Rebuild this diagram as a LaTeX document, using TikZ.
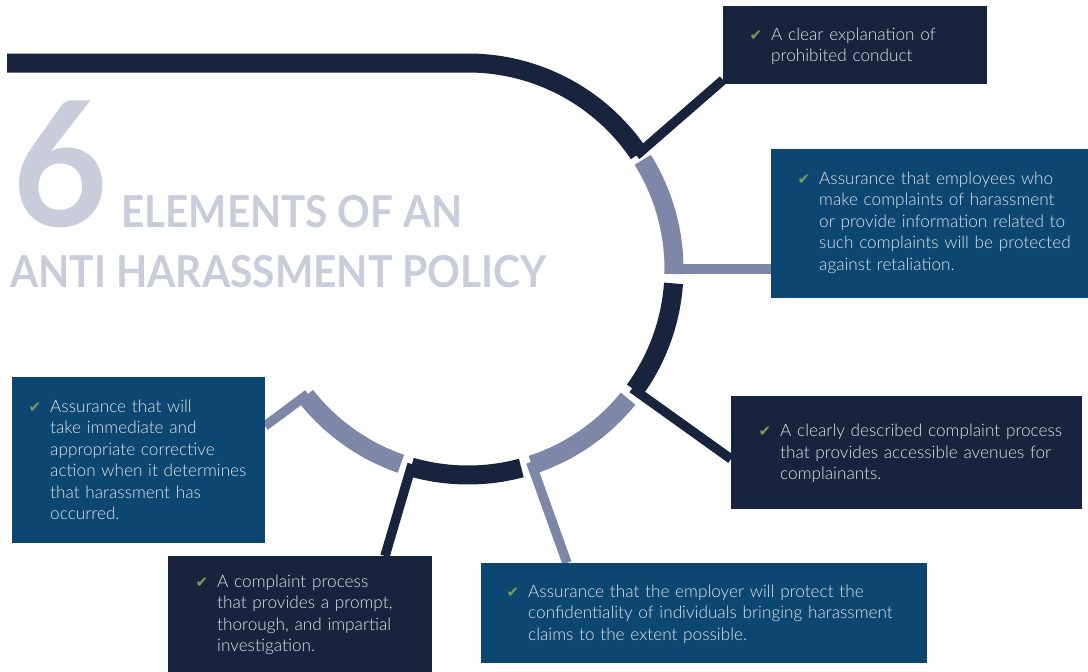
\documentclass[tikz,border=0pt]{standalone}
\usepackage{fontspec}
\usepackage{xcolor}
\usepackage{tikz}
\usetikzlibrary{backgrounds}

\newfontfamily\bodyfont{Lato Light}
\newfontfamily\titlefont{Lato Bold}
\newfontfamily\symfont{DejaVu Sans}

\definecolor{navy}{RGB}{24,36,61}
\definecolor{steel}{RGB}{11,71,113}
\definecolor{slate}{RGB}{126,135,167}
\definecolor{pale}{RGB}{201,205,219}
\definecolor{txtgray}{RGB}{226,228,233}
\definecolor{chkgreen}{RGB}{125,154,91}

\newcommand{\chkmark}{\llap{\textcolor{chkgreen}{\symfont\fontsize{15pt}{15pt}\selectfont ✔}\hspace{9pt}}}

\begin{document}
\begin{tikzpicture}[x=1pt, y=-1pt,
    box/.style={anchor=north west, inner sep=0pt, outer sep=0pt},
    txt/.style={anchor=base west, inner sep=0pt, text=txtgray, text width=420pt, align=left,
        font=\bodyfont\fontsize{17.2pt}{21.5pt}\selectfont},
    head/.style={anchor=base west, inner sep=0pt, text=pale},
    ring/.style={line width=19pt},
    link/.style={line width=9.5pt}]

    \useasboundingbox (0,0) rectangle (1088,672);

    % Title
    \node[head, font=\titlefont\fontsize{174pt}{174pt}\selectfont] (six) at (12,226) {\scalebox{0.95}[1]{6}};
    \node[head, font=\titlefont\fontsize{44pt}{44pt}\selectfont] (head1) at (121,227) {\scalebox{0.92}[1]{ELEMENTS OF AN}};
    \node[head, font=\titlefont\fontsize{44pt}{44pt}\selectfont] (head2) at (10,287) {\scalebox{0.925}[1]{ANTI HARASSMENT POLICY}};

    % Boxes
    \node[box, fill=navy, minimum width=264pt, minimum height=78pt] (b1) at (723,6) {};
    \node[box, fill=steel, minimum width=317pt, minimum height=149pt] (b2) at (771,149) {};
    \node[box, fill=navy, minimum width=351pt, minimum height=113pt] (b3) at (731,396) {};
    \node[box, fill=navy, minimum width=264pt, minimum height=116pt] (b4) at (168,556) {};
    \node[box, fill=steel, minimum width=446pt, minimum height=100pt] (b5) at (481,563) {};
    \node[box, fill=steel, minimum width=253pt, minimum height=166pt] (b6) at (12,377) {};

    % Texts
    \node[txt] (t1) at ([xshift=48pt,yshift=-34.3pt]b1.north west)
        {\chkmark A clear explanation of\\prohibited conduct};
    \node[txt] (t2) at ([xshift=48pt,yshift=-35pt]b2.north west)
        {\chkmark Assurance that employees who\\make complaints of harassment\\or provide information related to\\such complaints will be protected\\against retaliation.};
    \node[txt] (t3) at ([xshift=49pt,yshift=-40.7pt]b3.north west)
        {\chkmark A clearly described complaint process\\that provides accessible avenues for\\complainants.};
    \node[txt] (t4) at ([xshift=49pt,yshift=-31pt]b4.north west)
        {\chkmark A complaint process\\that provides a prompt,\\thorough, and impartial\\investigation.};
    \node[txt] (t5) at ([xshift=47pt,yshift=-34.3pt]b5.north west)
        {\chkmark Assurance that the employer will protect the\\confidentiality of individuals bringing harassment\\claims to the extent possible.};
    \node[txt] (t6) at ([xshift=38pt,yshift=-35pt]b6.north west)
        {\chkmark Assurance that will\\take immediate and\\appropriate corrective\\action when it determines\\that harassment has\\occurred.};

    % Ring
    \coordinate (c) at (468,269);
    \draw[ring, navy] (7,63) -- (468,63) arc[start angle=-90, end angle=-34, radius=206];
    \draw[ring, slate] ([shift={(-32:206)}]c) arc[start angle=-32, end angle=1.4, radius=206];
    \draw[ring, navy] ([shift={(4:206)}]c) arc[start angle=4, end angle=36, radius=206];
    \draw[ring, slate] ([shift={(39:206)}]c) arc[start angle=39, end angle=72, radius=206];
    \draw[ring, navy] ([shift={(75:206)}]c) arc[start angle=75, end angle=106, radius=206];
    \draw[ring, slate] ([shift={(109:206)}]c) arc[start angle=109, end angle=142, radius=206];

    % Connectors
    \coordinate (e1) at ([shift={(-34:203)}]c);
    \coordinate (e2) at ([shift={(0:198)}]c);
    \coordinate (e3) at ([shift={(36:203)}]c);
    \coordinate (e4) at ([shift={(72:203)}]c);
    \coordinate (e5) at ([shift={(106:203)}]c);
    \coordinate (e6) at ([shift={(142:203)}]c);
    \begin{scope}[on background layer]
        \draw[link, navy] (e1) -- ([yshift=4pt]b1.south west);
        \draw[link, slate] (e2) -- (e2 -| b2.west);
        \draw[link, navy] (e3) -- ([yshift=-6.5pt]b3.west);
        \draw[link, slate] (e4) -- ([xshift=86pt]b5.north west);
        \draw[link, navy] (e5) -- ([xshift=217pt]b4.north west);
        \draw[link, slate] (e6) -- ([yshift=34pt]b6.east);
    \end{scope}
\end{tikzpicture}
\end{document}
